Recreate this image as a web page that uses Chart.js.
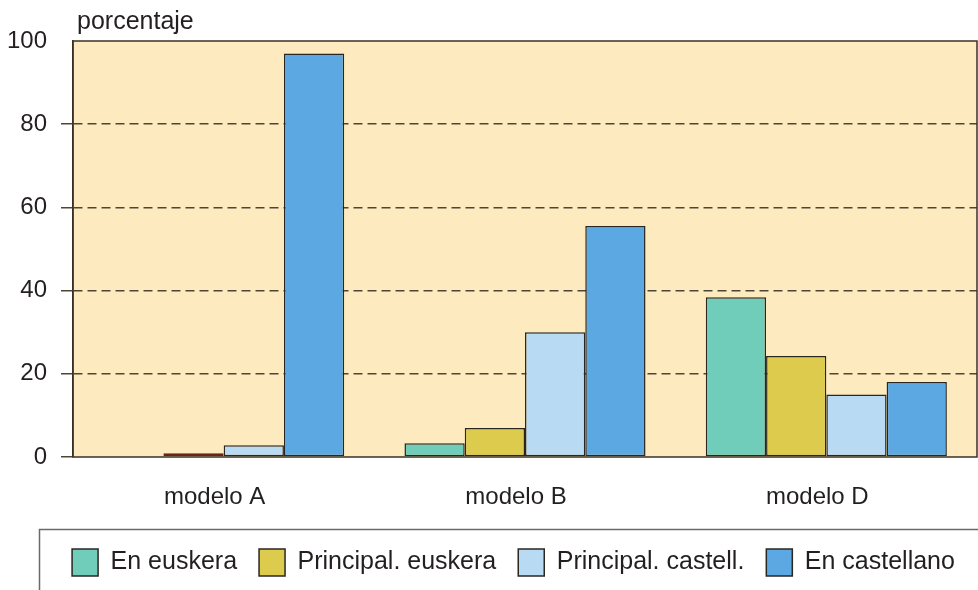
<!DOCTYPE html>
<html>
<head>
<meta charset="utf-8">
<script src="https://cdn.jsdelivr.net/npm/chart.js@4.4.1/dist/chart.umd.min.js"></script>
<style>
  html, body { margin: 0; padding: 0; background: #fff; }
  #wrap { width: 978px; height: 590px; }
</style>
</head>
<body>
<div id="wrap"><canvas id="myChart" width="978" height="590"></canvas></div>
<script>
// data
const categories = ['modelo A', 'modelo B', 'modelo D']
const series_names = ['En euskera', 'Principal. euskera', 'Principal. castell.', 'En castellano']
const en_euskera = [0, 3.3, 38.4]
const principal_euskera = [0.9, 7, 24.3]
const principal_castell = [2.8, 30, 15]
const en_castellano = [97, 55.5, 18]
const y_ticks = [0, 20, 40, 60, 80, 100]

const colors = ['#6fcdb9', '#dccb4c', '#b8daf3', '#5ba8e2']
const ink = '#231f20'
const font_family = "'Liberation Sans', Arial, Helvetica, sans-serif"

const plot_bg = {
    id: 'plot_bg',
    afterLayout(chart) {
        // nudge the legend to where the reference prints it
        const lg = chart.legend
        lg.left += 25
        lg.right += 25
        lg.top -= 4
        lg.bottom -= 4
    },
    beforeDraw(chart) {
        const { ctx, chartArea: a } = chart
        ctx.save()
        ctx.fillStyle = '#fdebbf'
        ctx.fillRect(a.left, a.top, a.right - a.left, a.bottom - a.top)
        ctx.restore()
    },
    afterDatasetsDraw(chart) {
        const { ctx, chartArea: a } = chart
        ctx.save()
        ctx.strokeStyle = '#3a3228'
        ctx.lineWidth = 1.5
        ctx.strokeRect(a.left, a.top, a.right - a.left, a.bottom - a.top)
        // axis title sits above the plot, left aligned
        ctx.fillStyle = ink
        ctx.font = '25px ' + font_family
        ctx.textBaseline = 'alphabetic'
        ctx.fillText('porcentaje', a.left + 4, 29)
        ctx.restore()
    },
    afterDraw(chart) {
        // frame round the legend
        const { ctx } = chart
        ctx.save()
        ctx.strokeStyle = '#6a6a6a'
        ctx.lineWidth = 1.5
        ctx.strokeRect(39.5, 529.5, 980, 80)
        ctx.restore()
    }
}

const ctx = document.getElementById('myChart')

const make_set = (i, values) => ({
    label: series_names[i],
    data: values,
    backgroundColor: colors[i],
    borderColor: '#2a2622',
    borderWidth: 1.5,
    borderSkipped: false
})

const set_pe = make_set(1, principal_euskera)
// the tiny modelo A bar prints dark red in the reference
set_pe.backgroundColor = (c) => c.dataIndex === 0 ? '#8c2c1c' : colors[1]
set_pe.borderColor = (c) => c.dataIndex === 0 ? '#6a2416' : '#2a2622'

new Chart(ctx, {
    type: 'bar',
    data: {
        labels: categories,
        datasets: [
            make_set(0, en_euskera),
            set_pe,
            make_set(2, principal_castell),
            make_set(3, en_castellano)
        ]
    },
    options: {
        responsive: false,
        animation: false,
        layout: { padding: { left: 0, right: 1, top: 41, bottom: 0 } },
        datasets: { bar: { categoryPercentage: 0.8, barPercentage: 1.0 } },
        plugins: {
            tooltip: { enabled: false },
            legend: {
                position: 'bottom',
                labels: {
                    color: ink,
                    font: { size: 25, family: font_family },
                    boxWidth: 26,
                    boxHeight: 27,
                    padding: 22,
                    generateLabels(chart) {
                        const items = Chart.defaults.plugins.legend.labels.generateLabels(chart)
                        items.forEach((it, i) => {
                            it.fillStyle = colors[i]
                            it.strokeStyle = '#2a2622'
                            it.lineWidth = 1.5
                        })
                        return items
                    }
                }
            }
        },
        scales: {
            x: {
                grid: { display: false, drawTicks: false },
                border: { display: false },
                ticks: {
                    color: ink,
                    font: { size: 24, family: font_family },
                    padding: 26,
                    labelOffset: -9
                },
                afterFit(s) { s.height = 74 }
            },
            y: {
                min: 0,
                max: 100,
                afterBuildTicks(s) { s.ticks = y_ticks.map(v => ({ value: v })) },
                grid: {
                    color: (c) => (c.tick && (c.tick.value === 0 || c.tick.value === 100)) ? 'rgba(0,0,0,0)' : '#4e4536',
                    lineWidth: 1.5,
                    tickColor: (c) => (c.tick && c.tick.value === 100) ? 'rgba(0,0,0,0)' : '#4e4536',
                    tickLength: 12,
                    tickWidth: 1.5,
                    tickBorderDash: [],
                    borderDash: [9, 5]
                },
                border: { display: true, color: '#3a3228', width: 1.5, dash: [9, 5] },
                ticks: {
                    color: ink,
                    font: { size: 24, family: font_family },
                    padding: 14
                },
                afterFit(s) { s.width = 73 }
            }
        }
    },
    plugins: [plot_bg]
})
</script>
</body>
</html>
